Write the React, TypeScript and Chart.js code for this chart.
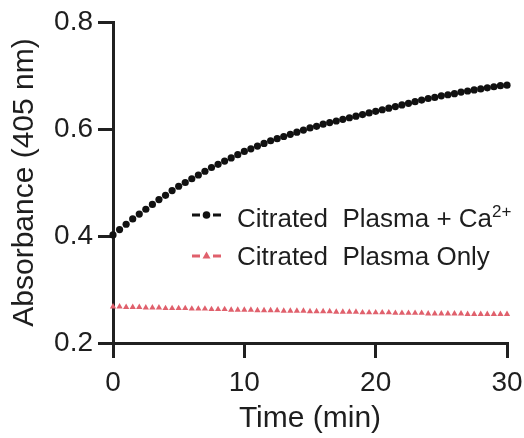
import React, { useEffect, useRef } from "react";
import { Chart, registerables } from "chart.js";

Chart.register(...registerables);

const timeMin = [
  0, 0.5, 1, 1.5, 2, 2.5, 3, 3.5, 4, 4.5, 5, 5.5, 6, 6.5, 7, 7.5, 8, 8.5, 9, 9.5,
  10, 10.5, 11, 11.5, 12, 12.5, 13, 13.5, 14, 14.5, 15, 15.5, 16, 16.5, 17, 17.5,
  18, 18.5, 19, 19.5, 20, 20.5, 21, 21.5, 22, 22.5, 23, 23.5, 24, 24.5, 25, 25.5,
  26, 26.5, 27, 27.5, 28, 28.5, 29, 29.5, 30,
];

const plasmaCa = [
  0.402, 0.412, 0.422, 0.432, 0.441, 0.45, 0.459, 0.468, 0.476, 0.485, 0.493,
  0.5, 0.507, 0.514, 0.521, 0.528, 0.534, 0.54, 0.546, 0.552, 0.558,
  0.563, 0.568, 0.573, 0.578, 0.582, 0.586, 0.59, 0.594, 0.598, 0.602,
  0.605, 0.609, 0.612, 0.615, 0.618, 0.621, 0.624, 0.627, 0.63, 0.633,
  0.636, 0.639, 0.642, 0.645, 0.648, 0.651, 0.654, 0.657, 0.659, 0.662,
  0.664, 0.666, 0.669, 0.671, 0.673, 0.675, 0.677, 0.679, 0.681, 0.682,
];

const plasmaOnly = [
  0.268, 0.268, 0.267, 0.267, 0.267, 0.266, 0.266, 0.266, 0.265, 0.265, 0.265,
  0.265, 0.264, 0.264, 0.264, 0.263, 0.263, 0.263, 0.262, 0.262, 0.262,
  0.262, 0.261, 0.261, 0.261, 0.261, 0.26, 0.26, 0.26, 0.26, 0.259,
  0.259, 0.259, 0.259, 0.258, 0.258, 0.258, 0.258, 0.257, 0.257, 0.257,
  0.257, 0.257, 0.256, 0.256, 0.256, 0.256, 0.256, 0.255, 0.255, 0.255,
  0.255, 0.255, 0.255, 0.254, 0.254, 0.254, 0.254, 0.254, 0.254, 0.254,
];

const xTicks = [0, 10, 20, 30];
const yTicks = [0.2, 0.4, 0.6, 0.8];
const seriesLabels = ["Citrated  Plasma + Ca", "Citrated  Plasma Only"];
const seriesSup = ["2+", ""];

const BLACK = "#111111";
const RED = "#e0606c";
const TEXT = "#1e1e1e";
const AXIS = "#202020";
const FONT = "Arial, 'Liberation Sans', Helvetica, sans-serif";

const legendPlugin = {
  id: "customLegend",
  afterDraw(chart: any) {
    const ctx = chart.ctx as CanvasRenderingContext2D;
    ctx.save();
    const rows = [
      { my: 215, by: 227, color: BLACK, style: "circle" },
      { my: 256, by: 265, color: RED, style: "triangle" },
    ];
    rows.forEach((r, i) => {
      ctx.strokeStyle = r.color;
      ctx.fillStyle = r.color;
      ctx.lineWidth = 3;
      ctx.beginPath();
      ctx.moveTo(192, r.my);
      ctx.lineTo(200, r.my);
      ctx.moveTo(213, r.my);
      ctx.lineTo(221, r.my);
      ctx.stroke();
      ctx.beginPath();
      if (r.style === "circle") {
        ctx.arc(206.5, r.my, 3.8, 0, Math.PI * 2);
      } else {
        ctx.moveTo(206.5, r.my - 4.5);
        ctx.lineTo(210.5, r.my + 2.5);
        ctx.lineTo(202.5, r.my + 2.5);
        ctx.closePath();
      }
      ctx.fill();
      ctx.fillStyle = TEXT;
      ctx.textBaseline = "alphabetic";
      ctx.textAlign = "left";
      ctx.font = `26px ${FONT}`;
      ctx.fillText(seriesLabels[i], 237, r.by);
      if (seriesSup[i]) {
        const w = ctx.measureText(seriesLabels[i]).width;
        ctx.font = `17px ${FONT}`;
        ctx.fillText(seriesSup[i], 237 + w, r.by - 10);
      }
    });
    ctx.restore();
  },
};

export default function App() {
  const ref = useRef<HTMLCanvasElement>(null);
  useEffect(() => {
    document.body.style.margin = "0";
    const canvas = ref.current;
    if (!canvas) return;
    const chart = new Chart(canvas, {
      type: "line",
      data: {
        datasets: [
          {
            label: seriesLabels[0],
            data: timeMin.map((t, i) => ({ x: t, y: plasmaCa[i] })),
            showLine: false,
            pointStyle: "circle",
            pointRadius: 3.6,
            pointBackgroundColor: BLACK,
            pointBorderColor: BLACK,
            pointBorderWidth: 0,
            clip: false as any,
          },
          {
            label: seriesLabels[1],
            data: timeMin.map((t, i) => ({ x: t, y: plasmaOnly[i] })),
            showLine: false,
            pointStyle: "triangle",
            pointRadius: 3.6,
            pointBackgroundColor: RED,
            pointBorderColor: RED,
            pointBorderWidth: 0,
            clip: false as any,
          },
        ],
      },
      options: {
        responsive: false,
        animation: false,
        devicePixelRatio: 1,
        layout: { padding: { top: 22, right: 17, left: 0, bottom: 0 } },
        plugins: {
          legend: { display: false },
          tooltip: { enabled: false },
        },
        scales: {
          x: {
            type: "linear",
            min: 0,
            max: 30,
            afterBuildTicks: (s: any) => {
              s.ticks = xTicks.map((v) => ({ value: v }));
            },
            afterFit: (s: any) => {
              s.height = 95;
              s.paddingLeft = 0;
              s.paddingRight = 0;
            },
            grid: {
              drawOnChartArea: false,
              drawTicks: true,
              tickLength: 15,
              lineWidth: 3,
              color: AXIS,
            },
            border: { display: true, width: 3, color: AXIS },
            ticks: {
              color: TEXT,
              padding: 8,
              maxRotation: 0,
              font: { size: 28, family: FONT },
              callback: (v: any) => String(v),
            },
            title: {
              display: true,
              text: "Time (min)",
              color: TEXT,
              font: { size: 30, family: FONT },
              padding: { top: 0, bottom: 1 },
            },
          },
          y: {
            type: "linear",
            min: 0.2,
            max: 0.8,
            afterBuildTicks: (s: any) => {
              s.ticks = yTicks.map((v) => ({ value: v }));
            },
            afterFit: (s: any) => {
              s.width = 113;
              s.paddingTop = 0;
              s.paddingBottom = 0;
            },
            grid: {
              drawOnChartArea: false,
              drawTicks: true,
              tickLength: 15,
              lineWidth: 3,
              color: AXIS,
            },
            border: { display: true, width: 3, color: AXIS },
            ticks: {
              color: TEXT,
              padding: 5,
              font: { size: 28, family: FONT },
              callback: (v: any) => Number(v).toFixed(1),
            },
            title: {
              display: true,
              text: "Absorbance (405 nm)",
              color: TEXT,
              font: { size: 30, family: FONT },
              padding: { top: 7, bottom: 0 },
            },
          },
        },
      },
      plugins: [legendPlugin],
    });
    return () => chart.destroy();
  }, []);
  return (
    <div style={{ width: 524, height: 438 }}>
      <canvas ref={ref} width={524} height={438} />
    </div>
  );
}
